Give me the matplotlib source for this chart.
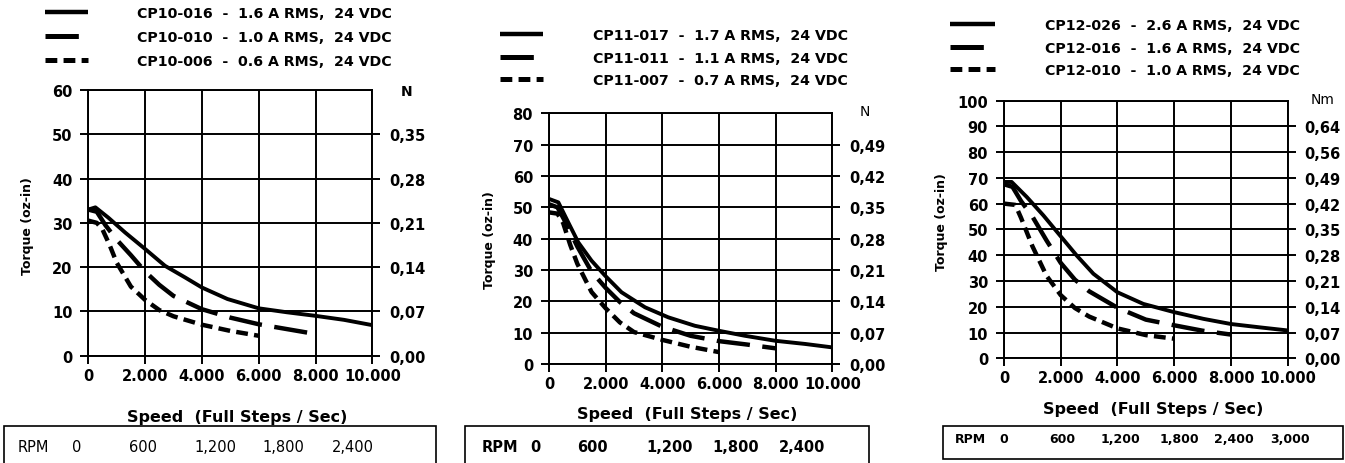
import matplotlib
matplotlib.use('Agg')
import matplotlib.pyplot as plt
from matplotlib.lines import Line2D
from matplotlib.patches import Rectangle

plt.rcParams['font.family'] = 'DejaVu Sans'
plt.rcParams['lines.scale_dashes'] = False

# speed axis, shared by all three charts
speed_ticks = [0, 2000, 4000, 6000, 8000, 10000]
speed_labels = ['0', '2.000', '4.000', '6.000', '8.000', '10.000']

# CP10 series (torque oz-in vs full steps/sec)
cp10_names = ['CP10-016  -  1.6 A RMS,  24 VDC',
              'CP10-010  -  1.0 A RMS,  24 VDC',
              'CP10-006  -  0.6 A RMS,  24 VDC']
cp10_016_x = [0, 250, 700, 1300, 2000, 2700, 3400, 4000, 4900, 6000, 7000, 8000, 9000, 10000]
cp10_016_y = [33.0, 33.5, 31.2, 27.8, 24.1, 20.3, 17.7, 15.4, 12.8, 10.7, 9.8, 9.0, 8.1, 6.9]
cp10_010_x = [0, 300, 600, 1000, 1500, 2000, 2500, 3000, 4000, 5000, 6000, 7000, 8000]
cp10_010_y = [33.0, 32.5, 29.5, 26.2, 22.7, 19.0, 16.0, 13.5, 10.5, 8.6, 7.1, 6.0, 4.9]
cp10_006_x = [0, 300, 500, 750, 1000, 1500, 2000, 2500, 3000, 4000, 5000, 6000]
cp10_006_y = [30.5, 30.0, 28.5, 25.0, 21.0, 15.6, 12.6, 10.3, 8.9, 7.0, 5.6, 4.5]
cp10_yticks = [0, 10, 20, 30, 40, 50, 60]
cp10_nm = ['0,00', '0,07', '0,14', '0,21', '0,28', '0,35']
cp10_unit = 'N'
cp10_rpm = ['RPM', '0', '600', '1,200', '1,800', '2,400']

# CP11 series
cp11_names = ['CP11-017  -  1.7 A RMS,  24 VDC',
              'CP11-011  -  1.1 A RMS,  24 VDC',
              'CP11-007  -  0.7 A RMS,  24 VDC']
cp11_017_x = [0, 330, 680, 1035, 1500, 1980, 2560, 3390, 4210, 5150, 6000, 6920, 8000, 9040, 10000]
cp11_017_y = [52.7, 51.6, 45.2, 38.8, 33.0, 28.2, 22.9, 18.1, 14.9, 12.2, 10.6, 9.0, 7.4, 6.4, 5.3]
cp11_011_x = [0, 300, 600, 1000, 1500, 2000, 2500, 3000, 4000, 5000, 6000, 7000, 8000]
cp11_011_y = [51.0, 50.0, 45.0, 37.5, 29.5, 24.3, 19.8, 16.2, 11.9, 9.0, 7.3, 6.2, 5.0]
cp11_007_x = [0, 300, 500, 750, 1000, 1500, 2000, 2500, 3000, 4000, 5000, 6000]
cp11_007_y = [48.4, 48.0, 45.0, 38.0, 32.0, 23.0, 17.8, 13.3, 10.2, 7.7, 5.5, 3.8]
cp11_yticks = [0, 10, 20, 30, 40, 50, 60, 70, 80]
cp11_nm = ['0,00', '0,07', '0,14', '0,21', '0,28', '0,35', '0,42', '0,49']
cp11_unit = 'N'
cp11_rpm = ['RPM', '0', '600', '1,200', '1,800', '2,400']

# CP12 series
cp12_names = ['CP12-026  -  2.6 A RMS,  24 VDC',
              'CP12-016  -  1.6 A RMS,  24 VDC',
              'CP12-010  -  1.0 A RMS,  24 VDC']
cp12_026_x = [0, 270, 800, 1390, 1970, 2560, 3150, 4000, 4910, 6000, 7030, 8000, 9020, 10000]
cp12_026_y = [68.4, 68.4, 62.6, 55.4, 47.7, 39.9, 32.8, 25.6, 21.1, 17.9, 15.3, 13.3, 12.0, 10.8]
cp12_016_x = [0, 300, 600, 1000, 1500, 2000, 2500, 3000, 4000, 5000, 6000, 7000, 8000]
cp12_016_y = [67.5, 66.5, 61.0, 55.0, 45.7, 37.0, 30.5, 26.0, 19.6, 15.0, 12.8, 10.7, 9.2]
cp12_010_x = [0, 400, 600, 800, 1000, 1500, 2000, 2500, 3000, 4000, 5000, 6000]
cp12_010_y = [60.0, 59.5, 54.5, 49.0, 43.5, 32.0, 24.5, 19.5, 16.2, 11.6, 9.0, 7.6]
cp12_yticks = [0, 10, 20, 30, 40, 50, 60, 70, 80, 90, 100]
cp12_nm = ['0,00', '0,07', '0,14', '0,21', '0,28', '0,35', '0,42', '0,49', '0,56', '0,64']
cp12_unit = 'Nm'
cp12_rpm = ['RPM', '0', '600', '1,200', '1,800', '2,400', '3,000']

W, H = 1345, 464


def fx(x):
    return x / W


def fy(y):
    return 1 - y / H


styles = [dict(ls='-', lw=2.8),
          dict(ls=(0, (24, 9)), lw=3.2),
          dict(ls=(0, (8.5, 4.5)), lw=3.2)]

# layout in pixels: axes box, legend rows, label spots, rpm box
panels = [
    dict(curves=[(cp10_016_x, cp10_016_y), (cp10_010_x, cp10_010_y), (cp10_006_x, cp10_006_y)],
         names=cp10_names, yticks=cp10_yticks, nm=cp10_nm, unit=cp10_unit, rpm=cp10_rpm,
         box=(88.3, 372.3, 91, 356.7), leg_rows=[13, 37, 61], leg_x=(45, 88, 137),
         unit_pos=(407, 92), unit_bold=True, ylab=(27, 226), xlab=(237, 418),
         rpm_box=(4, 436, 427, 470), rpm_y=448, rpm_x=[33, 77, 143, 215, 283, 353],
         rpm_size=10.5, rpm_bold=False),
    dict(curves=[(cp11_017_x, cp11_017_y), (cp11_011_x, cp11_011_y), (cp11_007_x, cp11_007_y)],
         names=cp11_names, yticks=cp11_yticks, nm=cp11_nm, unit=cp11_unit, rpm=cp11_rpm,
         box=(549, 832.3, 114.4, 365), leg_rows=[35, 58, 80], leg_x=(500, 543, 593),
         unit_pos=(865, 112), unit_bold=False, ylab=(490, 240), xlab=(687, 415),
         rpm_box=(465, 869, 427, 470), rpm_y=448, rpm_x=[500, 535, 592, 670, 736, 802],
         rpm_size=10.5, rpm_bold=True),
    dict(curves=[(cp12_026_x, cp12_026_y), (cp12_016_x, cp12_016_y), (cp12_010_x, cp12_010_y)],
         names=cp12_names, yticks=cp12_yticks, nm=cp12_nm, unit=cp12_unit, rpm=cp12_rpm,
         box=(1004, 1287.7, 101.5, 359.3), leg_rows=[25, 48, 70], leg_x=(950, 995, 1045),
         unit_pos=(1323, 100), unit_bold=False, ylab=(942, 222), xlab=(1153, 410),
         rpm_box=(943, 1343, 427, 460), rpm_y=440, rpm_x=[970, 1004, 1062, 1120, 1179, 1234, 1290],
         rpm_size=9, rpm_bold=True),
]

fig = plt.figure(figsize=(W / 100, H / 100), dpi=100)

for p in panels:
    l, r, t, b = p['box']
    ax = fig.add_axes([fx(l), fy(b), (r - l) / W, (b - t) / H])
    for (xs, ys), st in zip(p['curves'], styles):
        ax.plot(xs, ys, color='black', solid_capstyle='butt', dash_capstyle='butt', **st)
    ymax = p['yticks'][-1]
    ax.set_xlim(0, 10000)
    ax.set_ylim(0, ymax)
    ax.set_xticks(speed_ticks)
    ax.set_xticklabels(speed_labels, fontweight='bold')
    ax.set_yticks(p['yticks'])
    ax.set_yticklabels([str(v) for v in p['yticks']], fontweight='bold')
    ax.grid(True, color='black', lw=1.4)
    for s in ax.spines.values():
        s.set_linewidth(1.4)
    ax.tick_params(axis='both', direction='out', length=5.5, width=1.4, labelsize=10.5, color='black')
    ax.tick_params(axis='y', pad=6)
    ax.tick_params(axis='x', pad=3)

    ax2 = ax.twinx()
    ax2.set_ylim(0, ymax)
    ax2.set_yticks(p['yticks'][:-1])
    ax2.set_yticklabels(p['nm'], fontweight='bold')
    for s in ax2.spines.values():
        s.set_visible(False)
    ax2.tick_params(axis='y', direction='out', length=5.5, width=1.4, labelsize=10.5, pad=6.5)

    # unit at top of right axis
    ux, uy = p['unit_pos']
    fig.text(fx(ux), fy(uy), p['unit'], ha='center', va='center', fontsize=10,
             fontweight='bold' if p['unit_bold'] else 'normal')

    # axis titles
    fig.text(fx(p['ylab'][0]), fy(p['ylab'][1]), 'Torque (oz-in)', rotation=90,
             ha='center', va='center', fontsize=9, fontweight='bold')
    fig.text(fx(p['xlab'][0]), fy(p['xlab'][1]), 'Speed  (Full Steps / Sec)',
             ha='center', va='center', fontsize=11.5, fontweight='bold')

    # legend above the chart
    x0, x1, xt = p['leg_x']
    for yrow, name, st in zip(p['leg_rows'], p['names'], styles):
        fig.add_artist(Line2D([fx(x0), fx(x1)], [fy(yrow), fy(yrow)], transform=fig.transFigure,
                              color='black', solid_capstyle='butt', dash_capstyle='butt',
                              ls=st['ls'], lw=st['lw'] + 0.4))
        fig.text(fx(xt), fy(yrow + 1), name, ha='left', va='center', fontsize=10.2, fontweight='bold')

    # rpm scale box
    bl, br, bt, bb = p['rpm_box']
    fig.add_artist(Rectangle((fx(bl), fy(bb)), (br - bl) / W, (bb - bt) / H, transform=fig.transFigure,
                             fill=False, edgecolor='black', lw=1.2, clip_on=False))
    for xr, txt in zip(p['rpm_x'], p['rpm']):
        fig.text(fx(xr), fy(p['rpm_y']), txt, ha='center', va='center', fontsize=p['rpm_size'],
                 fontweight='bold' if p['rpm_bold'] else 'normal')

fig.savefig('out.png', dpi=100, facecolor='white')
